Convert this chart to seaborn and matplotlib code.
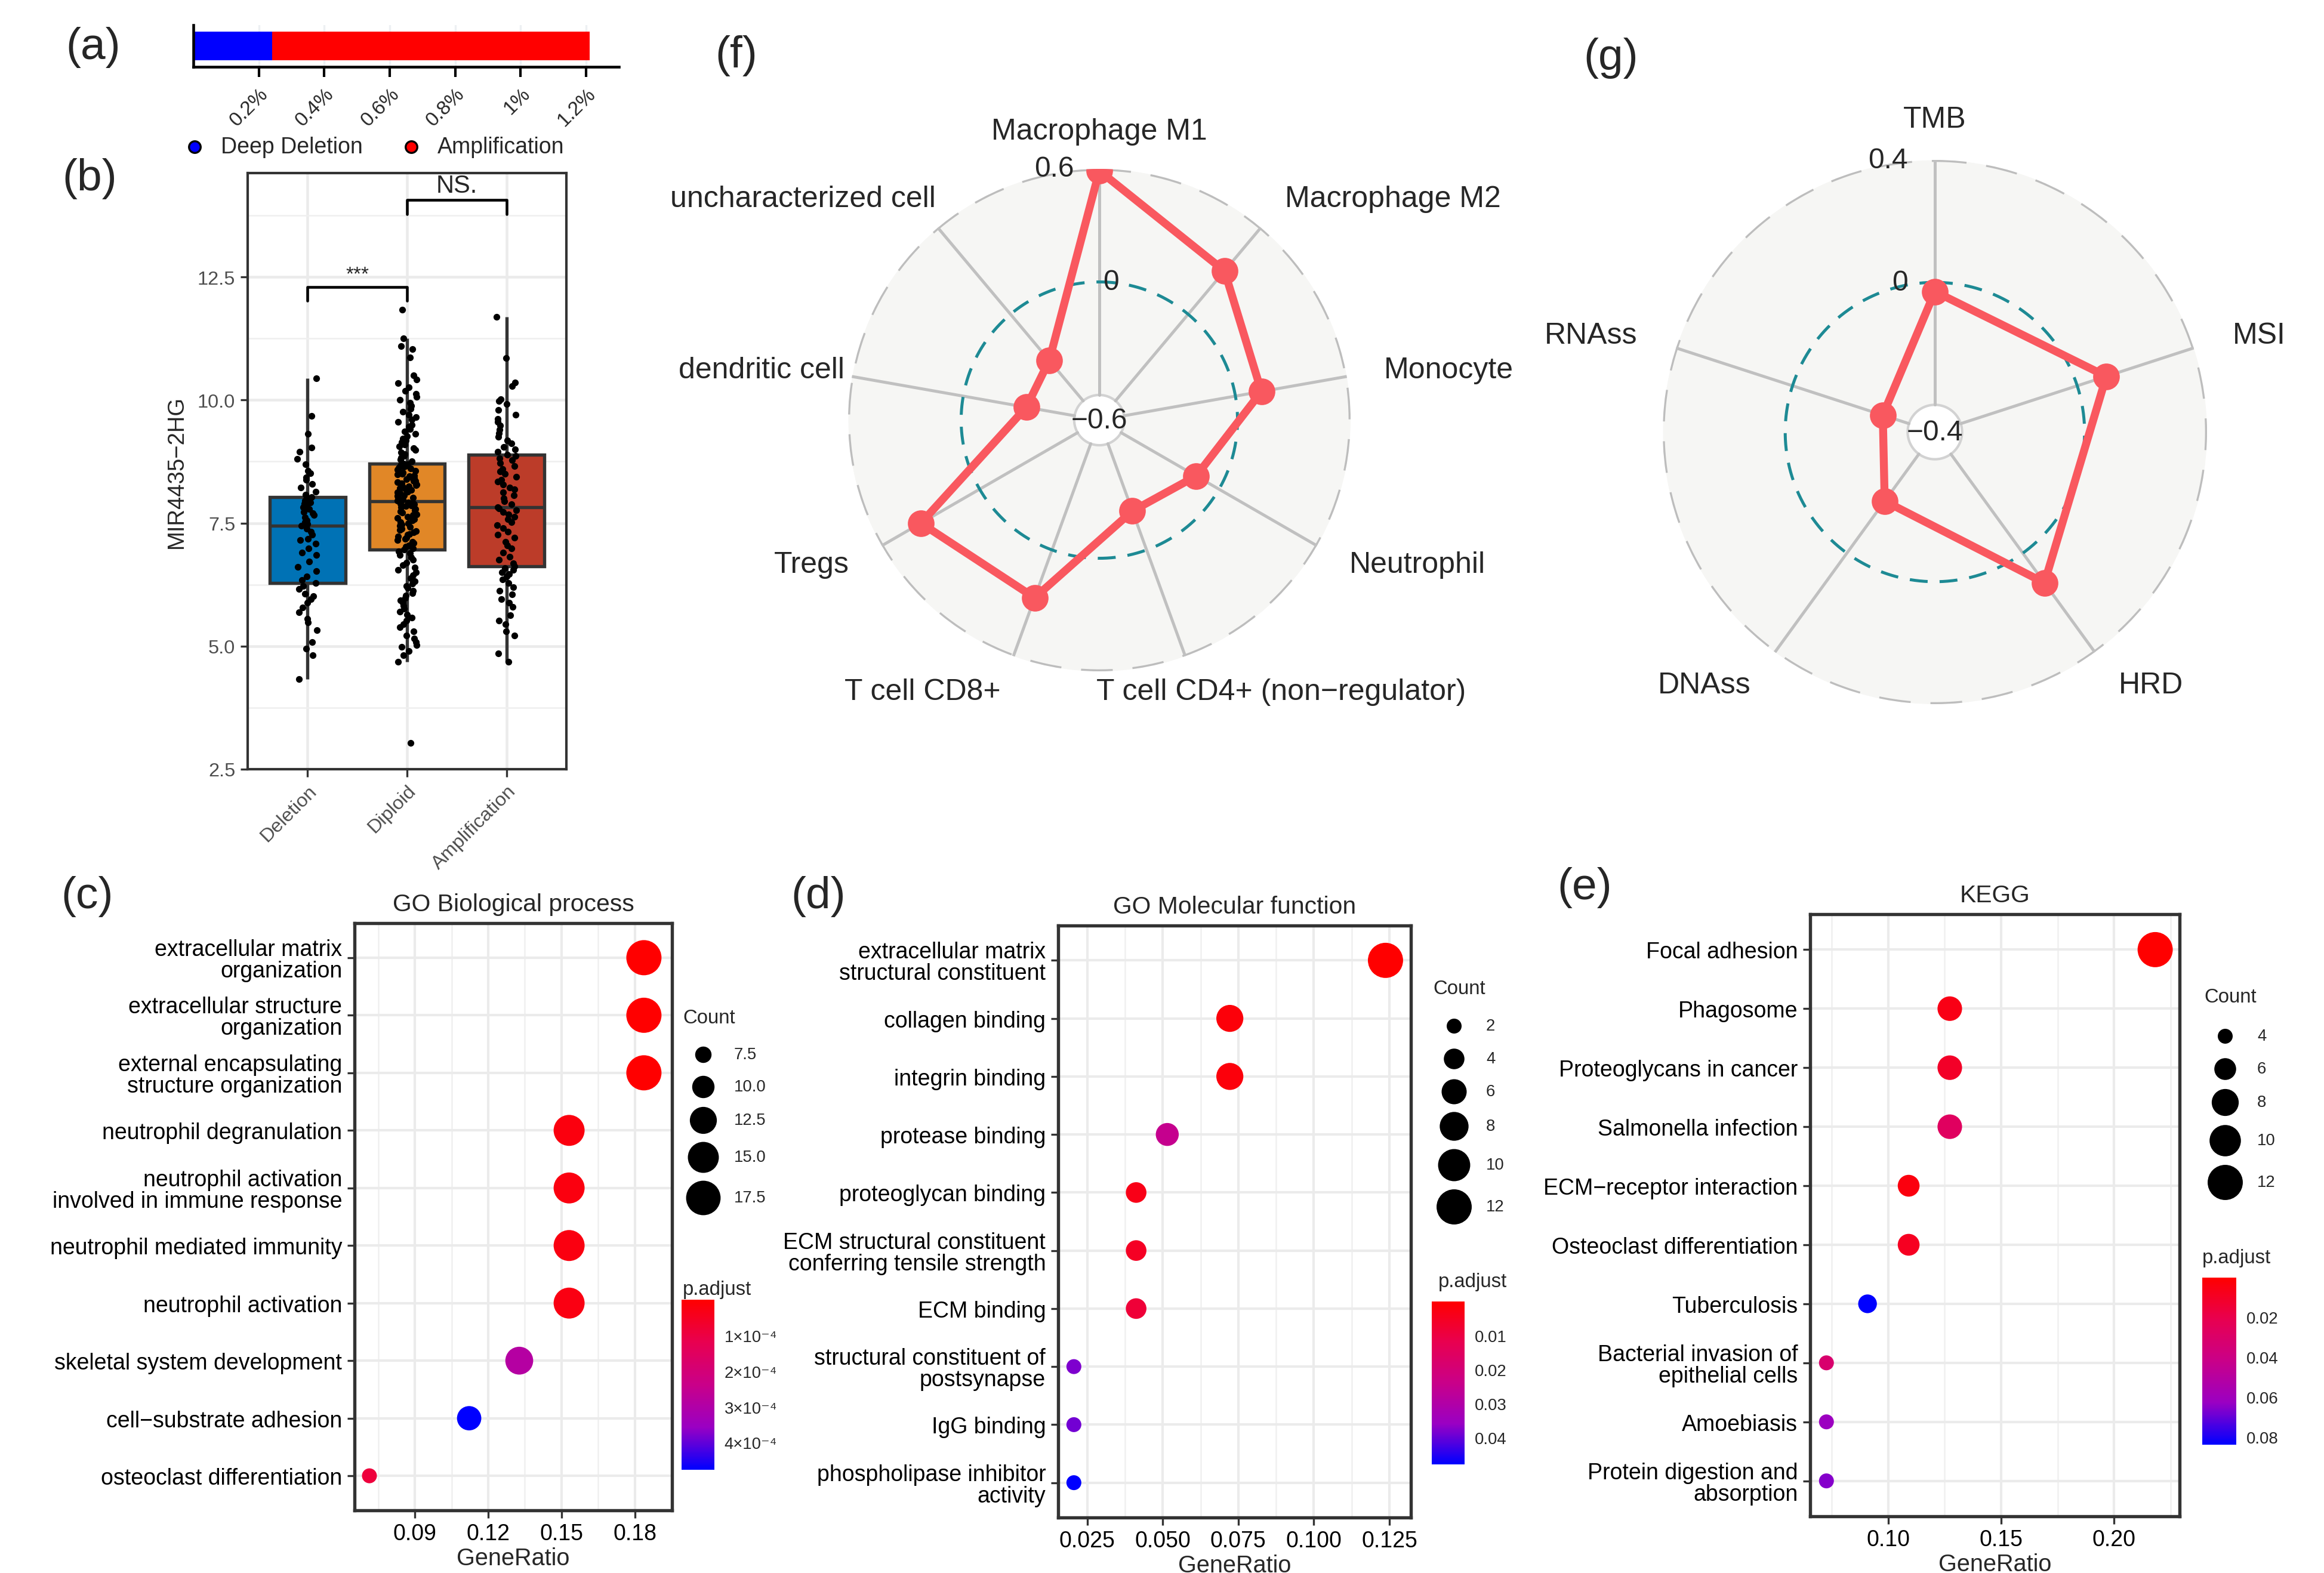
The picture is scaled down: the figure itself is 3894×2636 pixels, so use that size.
import numpy as np
import pandas as pd
import matplotlib.pyplot as plt
import seaborn as sns
from matplotlib.colors import LinearSegmentedColormap, Normalize
from matplotlib.cm import ScalarMappable

sns.set_theme(style='white')
plt.rcParams['font.family'] = ['Liberation Sans', 'DejaVu Sans']
plt.rcParams['axes.unicode_minus'] = True

W, H = 3894, 2637

# (a) frecuencia de alteraciones
cnv_labels = ['Deep Deletion', 'Amplification']
cnv_pct = [0.24, 0.97]
cnv_colors = ['#0000FF', '#FF0000']
a_ticks = [0.2, 0.4, 0.6, 0.8, 1.0, 1.2]
a_ticklabels = ['0.2%', '0.4%', '0.6%', '0.8%', '1%', '1.2%']

# (b) expresion por grupo de copia
b_groups = ['Deletion', 'Diploid', 'Amplification']
b_colors = ['#0072B5', '#E18727', '#BC3C29']
expr_deletion = [4.33, 4.82, 4.95, 5.08, 5.32, 5.48, 5.56, 5.69, 5.78, 5.88, 5.95, 6.02, 6.06, 6.16, 6.22,
                 6.28, 6.34, 6.42, 6.53, 6.61, 6.72, 6.85, 6.90, 6.98, 7.08, 7.15, 7.18, 7.26, 7.32, 7.38,
                 7.44, 7.48, 7.52, 7.55, 7.61, 7.66, 7.70, 7.73, 7.78, 7.82, 7.86, 7.90, 7.92, 7.96, 8.00,
                 8.03, 8.08, 8.14, 8.22, 8.29, 8.38, 8.43, 8.51, 8.56, 8.70, 8.80, 8.95, 9.03, 9.31, 9.68,
                 10.44]
expr_diploid = [3.03, 4.68,
                4.82, 4.90, 4.98, 5.02, 5.08, 5.15, 5.22, 5.30, 5.38, 5.45, 5.52, 5.58, 5.64, 5.70, 5.76,
                5.82, 5.88, 5.93, 5.98, 6.03, 6.08, 6.13, 6.18, 6.22, 6.27, 6.32, 6.38, 6.44, 6.50, 6.55,
                6.60, 6.65, 6.70, 6.75, 6.80, 6.85, 6.89, 6.93,
                6.96,
                6.99, 7.02, 7.04, 7.07, 7.10, 7.12, 7.15, 7.18, 7.20, 7.23, 7.26, 7.28, 7.31, 7.34, 7.36,
                7.39, 7.42, 7.44, 7.47, 7.50, 7.52, 7.55, 7.58, 7.60, 7.63, 7.66, 7.68, 7.71, 7.74, 7.76,
                7.79, 7.82, 7.84, 7.86, 7.88, 7.89, 7.90, 7.91, 7.92,
                7.94,
                7.95, 7.98, 8.01, 8.02, 8.05, 8.07, 8.08, 8.11, 8.13, 8.14, 8.17, 8.19, 8.21, 8.22, 8.25,
                8.27, 8.28, 8.31, 8.33, 8.35, 8.36, 8.39, 8.41, 8.42, 8.45, 8.47, 8.49, 8.50, 8.53, 8.55,
                8.56, 8.58, 8.61, 8.62, 8.64, 8.66, 8.67, 8.69, 8.70,
                8.71,
                8.75, 8.79, 8.83, 8.86, 8.90, 8.94, 8.98, 9.02, 9.06, 9.10, 9.14, 9.18, 9.22, 9.27, 9.31,
                9.36, 9.41, 9.46, 9.50, 9.55, 9.60, 9.65, 9.70, 9.76, 9.82, 9.88, 9.94, 10.00, 10.06,
                10.12, 10.18, 10.26, 10.34, 10.42, 10.50, 10.86, 11.04, 11.10,
                11.25, 11.84]
expr_amplification = [4.68, 4.85, 5.22, 5.30, 5.45, 5.52, 5.63, 5.80, 5.88, 5.95, 6.05, 6.12, 6.20, 6.28,
                      6.35, 6.41, 6.46, 6.50, 6.55, 6.59,
                      6.62, 6.68, 6.75, 6.82, 6.90, 6.98, 7.05, 7.12, 7.20, 7.26, 7.33, 7.40, 7.46, 7.52,
                      7.58, 7.63, 7.68, 7.72, 7.76, 7.80,
                      7.82, 7.88, 7.94, 8.00, 8.06, 8.12, 8.18, 8.22, 8.28, 8.34, 8.38, 8.44, 8.50, 8.55,
                      8.60, 8.66, 8.72, 8.78, 8.82, 8.86,
                      8.89, 8.95, 9.00, 9.05, 9.12, 9.18, 9.25, 9.32, 9.40, 9.48, 9.56, 9.62, 9.70, 9.80,
                      9.92, 9.98, 10.02, 10.28, 10.36, 10.85,
                      11.69]
b_ticks = [2.5, 5.0, 7.5, 10.0, 12.5]
b_minor = [3.75, 6.25, 8.75, 11.25, 13.75]

# (c) GO BP
c_terms = ['extracellular matrix\norganization', 'extracellular structure\norganization',
           'external encapsulating\nstructure organization', 'neutrophil degranulation',
           'neutrophil activation\ninvolved in immune response', 'neutrophil mediated immunity',
           'neutrophil activation', 'skeletal system development', 'cell\u2212substrate adhesion',
           'osteoclast differentiation']
c_ratio = [0.1837, 0.1837, 0.1837, 0.1531, 0.1531, 0.1531, 0.1531, 0.1327, 0.1122, 0.0714]
c_count = [18, 18, 18, 15, 15, 15, 15, 13, 11, 7]
c_padj = [2e-7, 2e-7, 2e-7, 2.2e-5, 2.4e-5, 2.5e-5, 2.7e-5, 2.9e-4, 4.76e-4, 9.0e-5]

# (d) GO MF
d_terms = ['extracellular matrix\nstructural constituent', 'collagen binding', 'integrin binding',
           'protease binding', 'proteoglycan binding', 'ECM structural constituent\nconferring tensile strength',
           'ECM binding', 'structural constituent of\npostsynapse', 'IgG binding',
           'phospholipase inhibitor\nactivity']
d_ratio = [0.1237, 0.0722, 0.0722, 0.0515, 0.0412, 0.0412, 0.0412, 0.0206, 0.0206, 0.0206]
d_count = [12, 7, 7, 5, 4, 4, 4, 2, 2, 2]
d_padj = [1.2e-5, 0.0015, 0.0018, 0.025, 0.0035, 0.0055, 0.0085, 0.038, 0.039, 0.0479]

# (e) KEGG
e_terms = ['Focal adhesion', 'Phagosome', 'Proteoglycans in cancer', 'Salmonella infection',
           'ECM\u2212receptor interaction', 'Osteoclast differentiation', 'Tuberculosis',
           'Bacterial invasion of\nepithelial cells', 'Amoebiasis', 'Protein digestion and\nabsorption']
e_ratio = [0.2182, 0.1273, 0.1273, 0.1273, 0.1091, 0.1091, 0.0909, 0.0727, 0.0727, 0.0727]
e_count = [12, 7, 7, 7, 6, 6, 5, 4, 4, 4]
e_padj = [0.0004, 0.006, 0.011, 0.027, 0.004, 0.009, 0.084, 0.032, 0.062, 0.066]

# (f) infiltracion inmune
f_labels = ['Macrophage M1', 'Macrophage M2', 'Monocyte', 'Neutrophil', 'T cell CD4+ (non\u2212regulator)',
            'T cell CD8+', 'Tregs', 'dendritic cell', 'uncharacterized cell']
f_values = [0.59, 0.30, 0.14, -0.14, -0.22, 0.27, 0.36, -0.34, -0.32]

# (g) TMB / MSI / ...
g_labels = ['TMB', 'MSI', 'HRD', 'DNAss', 'RNAss']
g_values = [-0.03, 0.10, 0.12, -0.21, -0.31]

# escala de color red -> blue (tipo ggplot, interpolado en Lab)
CMAP = LinearSegmentedColormap.from_list(
    'padj', [(0, '#FF0000'), (0.25, '#E80050'), (0.5, '#C90089'), (0.75, '#9A00C3'), (1, '#0000FF')])
S_MIN, S_MAX = 36, 200
RADAR_RED = '#F9585F'


def box(x0, y0, x1, y1):
    return [x0 / W, 1 - y1 / H, (x1 - x0) / W, (y1 - y0) / H]


fig = plt.figure(figsize=(W / 300, H / 300), dpi=300)
ov = fig.add_axes([0, 0, 1, 1])
ov.set_xlim(0, W)
ov.set_ylim(H, 0)
ov.axis('off')

# ---------------- (a) ----------------
ax_a = fig.add_axes(box(324, 43, 1037, 113))
sns.barplot(x=[sum(cnv_pct)], y=['MIR4435-2HG'], color=cnv_colors[1], width=0.69,
            saturation=1, linewidth=0, ax=ax_a)
sns.barplot(x=[cnv_pct[0]], y=['MIR4435-2HG'], color=cnv_colors[0], width=0.69,
            saturation=1, linewidth=0, ax=ax_a)
ax_a.set_xlim(0, 1.30)
ax_a.set_xticks(a_ticks)
ax_a.set_xticklabels(a_ticklabels, rotation=45, ha='right', rotation_mode='anchor', fontsize=8)
ax_a.set_yticks([])
ax_a.set_xlabel('')
ax_a.set_ylabel('')
ax_a.grid(axis='x', color='#EDF0F3', lw=0.8)
ax_a.set_axisbelow(True)
for s in ['top', 'right']:
    ax_a.spines[s].set_visible(False)
for s in ['left', 'bottom']:
    ax_a.spines[s].set_color('black')
    ax_a.spines[s].set_linewidth(1.1)
ax_a.tick_params(axis='x', bottom=True, length=4, width=1.0, color='black', pad=3)

for lab, col, xd in zip(cnv_labels, cnv_colors, [326, 689]):
    ov.scatter([xd], [247], s=22, color=col, edgecolor='black', lw=0.8)
    ov.text(xd + 44, 247, lab, fontsize=9, va='center', ha='left')

# ---------------- (b) ----------------
ax_b = fig.add_axes(box(415, 291, 949, 1290))
df_b = pd.DataFrame({
    'group': ['Deletion'] * len(expr_deletion) + ['Diploid'] * len(expr_diploid)
             + ['Amplification'] * len(expr_amplification),
    'value': expr_deletion + expr_diploid + expr_amplification})
sns.boxplot(data=df_b, x='group', y='value', hue='group', order=b_groups, hue_order=b_groups,
            palette=b_colors, saturation=1, width=0.76, linewidth=1.3, linecolor='#333333',
            showfliers=False, showcaps=False, legend=False, ax=ax_b)
np.random.seed(7)
sns.stripplot(data=df_b, x='group', y='value', order=b_groups, color='black', size=2.7,
              jitter=0.1, linewidth=0, ax=ax_b, zorder=4)
ax_b.set_xlim(-0.6, 2.6)
ax_b.set_ylim(2.5, 14.61)
ax_b.set_yticks(b_ticks)
ax_b.set_yticklabels(['2.5', '5.0', '7.5', '10.0', '12.5'])
ax_b.set_yticks(b_minor, minor=True)
ax_b.set_xticks(range(3))
ax_b.set_xticklabels(b_groups, rotation=45, ha='right', rotation_mode='anchor')
ax_b.grid(True, which='major', color='#EBEBEB', lw=1.1)
ax_b.grid(True, which='minor', axis='y', color='#EFEFEF', lw=0.6)
ax_b.set_axisbelow(True)
ax_b.tick_params(axis='both', which='major', left=True, bottom=True, length=3, width=0.8,
                 color='#333333', labelsize=7.8, labelcolor='#4D4D4D', pad=2)
ax_b.tick_params(which='minor', length=0)
ax_b.set_xlabel('')
ax_b.set_ylabel('MIR4435\u22122HG', fontsize=9.2, labelpad=4)
for s in ax_b.spines.values():
    s.set_visible(True)
    s.set_color('#333333')
    s.set_linewidth(1.0)
ax_b.plot([0, 0, 1, 1], [12.02, 12.30, 12.30, 12.02], color='black', lw=1.1, zorder=5)
ax_b.text(0.5, 12.55, '***', ha='center', va='center', fontsize=8)
ax_b.plot([1, 1, 2, 2], [13.77, 14.06, 14.06, 13.77], color='black', lw=1.1, zorder=5)
ax_b.text(1.5, 14.36, 'NS.', ha='center', va='center', fontsize=10, clip_on=False)


# ---------------- (c)(d)(e) dotplots ----------------
def dotplot(rect, terms, ratio, count, padj, title, xlim, xticks, xticklabels, xminor):
    ax = fig.add_axes(box(*rect))
    df = pd.DataFrame({'Description': terms, 'GeneRatio': ratio, 'Count': count, 'p.adjust': padj})
    norm = Normalize(min(padj), max(padj))
    sns.scatterplot(data=df, x='GeneRatio', y='Description', size='Count', sizes=(S_MIN, S_MAX),
                    size_norm=(min(count), max(count)), hue='p.adjust', palette=CMAP, hue_norm=norm,
                    linewidth=0, legend=False, ax=ax, zorder=3)
    ax.set_xlim(*xlim)
    ax.set_ylim(len(terms) - 0.4, -0.6)
    ax.set_xticks(xticks)
    ax.set_xticklabels(xticklabels)
    ax.set_xticks(xminor, minor=True)
    ax.set_yticks(range(len(terms)))
    ax.set_yticklabels(terms)
    for t in ax.get_yticklabels():
        t.set_linespacing(1.0)
    ax.grid(True, which='major', color='#EBEBEB', lw=1.0)
    ax.grid(True, which='minor', axis='x', color='#F0F0F0', lw=0.6)
    ax.set_axisbelow(True)
    ax.tick_params(axis='both', which='major', left=True, bottom=True, length=3, width=0.8,
                   color='#333333', labelsize=9, labelcolor='black', pad=2)
    ax.tick_params(which='minor', length=0)
    ax.set_ylabel('')
    ax.set_xlabel('GeneRatio', fontsize=9.5, labelpad=1)
    ax.set_title(title, fontsize=9.8, pad=5)
    for s in ax.spines.values():
        s.set_visible(True)
        s.set_color('#333333')
        s.set_linewidth(1.3)
    return norm


def size_area(v, nmin, nmax):
    return S_MIN + (v - nmin) / (nmax - nmin) * (S_MAX - S_MIN)


def legends(count, norm, title_xy, dot_x, dot_ys, lab_x, breaks, blabels,
            p_xy, cbar_box, cticks, clabels):
    ov.text(title_xy[0], title_xy[1], 'Count', fontsize=7.9, ha='left', va='center')
    for b, lb, yy in zip(breaks, blabels, dot_ys):
        ov.scatter([dot_x], [yy], s=size_area(b, min(count), max(count)), color='black', lw=0)
        ov.text(lab_x, yy, lb, fontsize=6.6, ha='left', va='center')
    ov.text(p_xy[0], p_xy[1], 'p.adjust', fontsize=7.9, ha='left', va='center')
    cax = fig.add_axes(box(*cbar_box))
    cb = fig.colorbar(ScalarMappable(norm=norm, cmap=CMAP), cax=cax)
    cb.outline.set_visible(False)
    cax.invert_yaxis()
    cb.set_ticks(cticks)
    cb.set_ticklabels(clabels)
    cax.tick_params(axis='y', which='major', direction='in', length=2.9, width=0.7, color='white',
                    left=True, right=True, labelleft=False, labelright=True, labelsize=6.6, pad=4)
    cax.tick_params(axis='y', which='minor', length=0)


norm_c = dotplot((594, 1548, 1126, 2532), c_terms, c_ratio, c_count, c_padj, 'GO Biological process',
                 (0.0653, 0.1952), [0.09, 0.12, 0.15, 0.18], ['0.09', '0.12', '0.15', '0.18'],
                 [0.075, 0.105, 0.135, 0.165])
legends(c_count, norm_c, (1144, 1707), 1178, [1768, 1822, 1878, 1940, 2008], 1230,
        [7.5, 10, 12.5, 15, 17.5], ['7.5', '10.0', '12.5', '15.0', '17.5'],
        (1144, 2162), (1142, 2179, 1197, 2464), [1e-4, 2e-4, 3e-4, 4e-4],
        ['1\u00d710\u207b\u2074', '2\u00d710\u207b\u2074', '3\u00d710\u207b\u2074', '4\u00d710\u207b\u2074'])

norm_d = dotplot((1773, 1552, 2364, 2544), d_terms, d_ratio, d_count, d_padj, 'GO Molecular function',
                 (0.0154, 0.1321), [0.025, 0.05, 0.075, 0.1, 0.125],
                 ['0.025', '0.050', '0.075', '0.100', '0.125'], [0.0375, 0.0625, 0.0875, 0.1125])
legends(d_count, norm_d, (2401, 1658), 2436, [1720, 1775, 1830, 1888, 1953, 2023], 2490,
        [2, 4, 6, 8, 10, 12], ['2', '4', '6', '8', '10', '12'],
        (2410, 2149), (2399, 2182, 2454, 2455), [0.01, 0.02, 0.03, 0.04],
        ['0.01', '0.02', '0.03', '0.04'])

norm_e = dotplot((3033, 1533, 3652, 2542), e_terms, e_ratio, e_count, e_padj, 'KEGG',
                 (0.0655, 0.229), [0.10, 0.15, 0.20], ['0.10', '0.15', '0.20'],
                 [0.075, 0.125, 0.175, 0.225])
legends(e_count, norm_e, (3693, 1672), 3728, [1737, 1792, 1848, 1912, 1982], 3782,
        [4, 6, 8, 10, 12], ['4', '6', '8', '10', '12'],
        (3690, 2109), (3690, 2142, 3747, 2422), [0.02, 0.04, 0.06, 0.08],
        ['0.02', '0.04', '0.06', '0.08'])


# ---------------- (f)(g) radar ----------------
def radar(rect, labels, values, gmin, gmax, glabels, mid_right, nudge):
    ax = fig.add_axes(box(*rect), projection='polar')
    centre = gmin - (gmax - gmin) / 9
    n = len(labels)
    theta = np.arange(n) * 2 * np.pi / n
    ax.set_theta_zero_location('N')
    ax.set_theta_direction(-1)
    ax.set_ylim(centre, gmax)
    ax.grid(False)
    ax.set_xticks([])
    ax.set_yticks([])
    ax.spines['polar'].set_visible(False)
    circ = np.linspace(0, 2 * np.pi, 400)
    ax.fill_between(circ, gmin, gmax, color='#F6F6F4', lw=0, zorder=0)
    ax.plot(circ, np.full(circ.size, gmax), color='#BDBDBD', lw=1.6, ls=(0, (8, 5)), zorder=1)
    ax.plot(circ, np.full(circ.size, 0.0), color='#1D8A94', lw=1.2, ls=(0, (6, 4)), zorder=2)
    ax.plot(circ, np.full(circ.size, gmin), color='#D2D2D2', lw=1.0, zorder=1)
    for t in theta:
        ax.plot([t, t], [gmin, gmax], color='#C0C0C0', lw=1.2, zorder=1)
    ax.plot(np.append(theta, theta[0]), np.append(values, values[0]), color=RADAR_RED,
            lw=3.2, zorder=5, solid_joinstyle='round')
    ax.scatter(theta, values, s=115, color=RADAR_RED, lw=0, zorder=6)
    r_lab = centre + 1.15 * (gmax - centre)
    for t, lab, dx in zip(theta, labels, nudge):
        s = np.sin(t)
        ha = 'center' if abs(s) < 0.02 else ('left' if s > 0 else 'right')
        ax.annotate(lab, xy=(t, r_lab), xytext=(dx, 0), textcoords='offset points',
                    ha=ha, va='center', fontsize=12, annotation_clip=False)
    off = 0.1 * (rect[2] - rect[0]) / 2 / 300 * 72
    ax.annotate(glabels[2], xy=(0, gmax), xytext=(-off, 0), textcoords='offset points',
                ha='right', va='center', fontsize=11.5)
    if mid_right:
        ax.annotate(glabels[1], xy=(0, 0), xytext=(1.5, 0), textcoords='offset points',
                    ha='left', va='center', fontsize=11.5)
    else:
        ax.annotate(glabels[1], xy=(0, 0), xytext=(-off, 0), textcoords='offset points',
                    ha='right', va='center', fontsize=11.5)
    ax.text(0, centre, glabels[0], ha='center', va='center', fontsize=11.5, zorder=7)


radar((1421, 284, 2263, 1126), f_labels, f_values, -0.6, 0.6, ['\u22120.6', '0', '0.6'], True,
      [0, 0, 0, 0, -41, 0, 0, 12, 9])
radar((2786, 269, 3698, 1181), g_labels, g_values, -0.4, 0.4, ['\u22120.4', '0', '0.4'], False,
      [0, 0, 0, 0, 0])

# etiquetas de los paneles
for lab, xy in [('(a)', (156, 80)), ('(b)', (150, 300)), ('(c)', (146, 1503)), ('(d)', (1371, 1503)),
                ('(e)', (2655, 1488)), ('(f)', (1234, 93)), ('(g)', (2699, 97))]:
    ov.text(xy[0], xy[1], lab, fontsize=18, ha='center', va='center')

fig.savefig('out.png', dpi=300)
